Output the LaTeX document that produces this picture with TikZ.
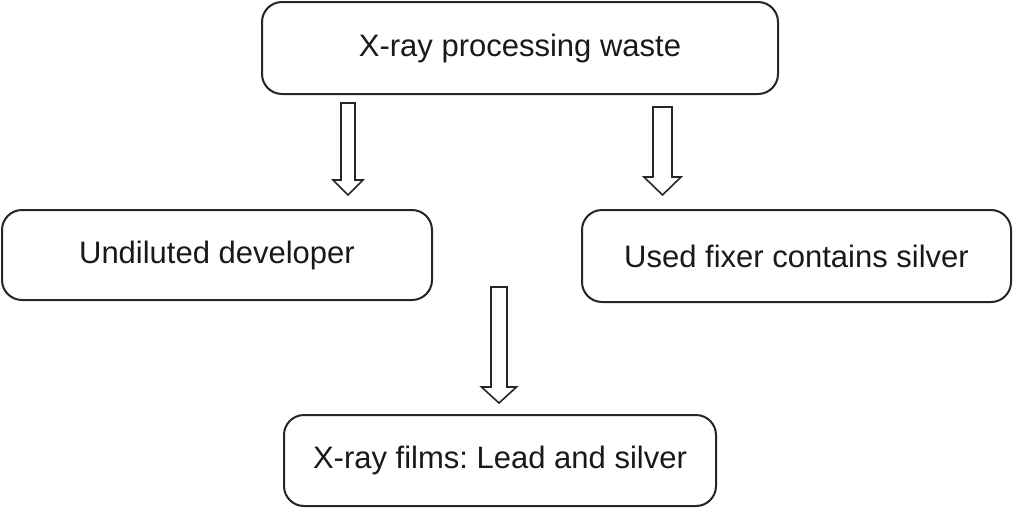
\documentclass[tikz,border=0pt]{standalone}
\usepackage{fontspec}
\setmainfont{Liberation Sans}
\frenchspacing
\tikzset{
  box/.style={draw=black!85, line width=2pt, rounded corners=20pt, inner sep=0pt, font=\fontsize{31}{37}\selectfont, text=black!90},
  blockarrow/.style={draw=black!85, line width=1.6pt, fill=white, line join=miter}
}
\newcommand{\myblockarrow}[6]{% cx, ytop, ytip, shaftw, headw, headh
  \draw[blockarrow] ({#1-#4/2},{#2}) -- ({#1+#4/2},{#2}) -- ({#1+#4/2},{#3-#6}) -- ({#1+#5/2},{#3-#6}) -- ({#1},{#3}) -- ({#1-#5/2},{#3-#6}) -- ({#1-#4/2},{#3-#6}) -- cycle;}
\begin{document}
\begin{tikzpicture}[x=1pt,y=-1pt]
\useasboundingbox (0,0) rectangle (1013,509);
\node[box, minimum width=516pt, minimum height=92pt] (top) at (520,48) {X-ray processing waste};
\node[box, minimum width=430pt, minimum height=90pt] (left) at (217,255) {Undiluted developer};
\node[box, minimum width=429pt, minimum height=92pt] (right) at (796.5,256) {Used fixer contains silver};
\node[box, minimum width=432pt, minimum height=91pt] (bottom) at (500,460.5) {X-ray films: Lead and silver};
\myblockarrow{348}{103}{195}{14}{30}{15}
\myblockarrow{662.5}{107}{195}{19}{37}{18}
\myblockarrow{499}{287}{403}{16}{35}{16}
\end{tikzpicture}
\end{document}
